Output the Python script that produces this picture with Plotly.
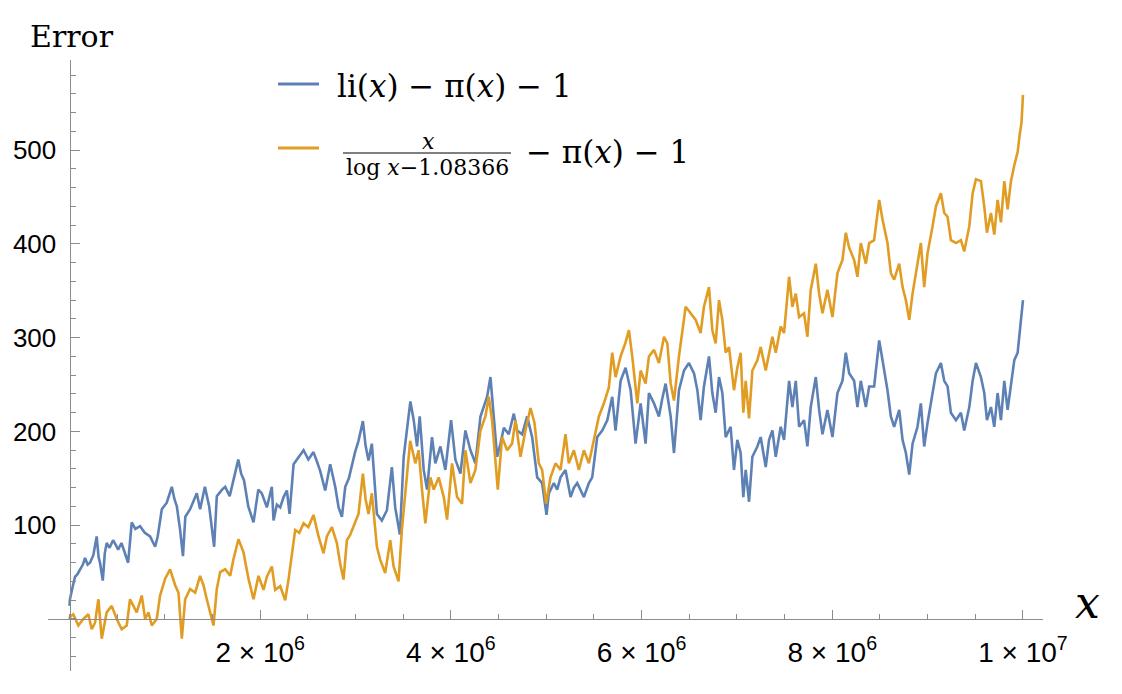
import numpy as np
import plotly.graph_objects as go

# values, x in units of 10^6
blue_x = [0.000, 0.005, 0.030, 0.058, 0.085, 0.110, 0.140, 0.163, 0.190, 0.215,
          0.250, 0.285, 0.305, 0.320, 0.349, 0.370, 0.390, 0.420, 0.457, 0.485,
          0.510, 0.545, 0.580, 0.615, 0.653, 0.690, 0.740, 0.790, 0.845, 0.898,
          0.925, 0.968, 1.020, 1.073, 1.100, 1.126, 1.160, 1.190, 1.215, 1.265,
          1.335, 1.370, 1.420, 1.465, 1.517, 1.545, 1.600, 1.633, 1.680, 1.715,
          1.770, 1.800, 1.830, 1.875, 1.930, 1.980, 2.017, 2.070, 2.122, 2.140,
          2.175, 2.210, 2.245, 2.280, 2.308, 2.350, 2.400, 2.455, 2.505, 2.559,
          2.595, 2.629, 2.682, 2.734, 2.787, 2.822, 2.857, 2.892, 2.930, 2.962,
          2.995, 3.031, 3.077, 3.105, 3.136, 3.171, 3.200, 3.224, 3.276, 3.329,
          3.381, 3.416, 3.465, 3.505, 3.575, 3.610, 3.645, 3.673, 3.715, 3.750,
          3.802, 3.837, 3.890, 3.942, 4.002, 4.047, 4.100, 4.152, 4.205, 4.257,
          4.310, 4.380, 4.415, 4.450, 4.485, 4.520, 4.555, 4.607, 4.660, 4.695,
          4.747, 4.800, 4.852, 4.905, 4.957, 5.003, 5.027, 5.080, 5.115, 5.150,
          5.202, 5.255, 5.290, 5.325, 5.360, 5.395, 5.447, 5.482, 5.535, 5.587,
          5.640, 5.692, 5.727, 5.780, 5.832, 5.885, 5.937, 5.990, 6.042, 6.077,
          6.130, 6.182, 6.215, 6.252, 6.305, 6.340, 6.392, 6.445, 6.497, 6.550,
          6.585, 6.619, 6.654, 6.707, 6.742, 6.777, 6.812, 6.847, 6.882, 6.934,
          6.969, 7.004, 7.039, 7.067, 7.092, 7.127, 7.162, 7.214, 7.249, 7.302,
          7.337, 7.372, 7.407, 7.459, 7.494, 7.547, 7.582, 7.617, 7.652, 7.704,
          7.739, 7.774, 7.827, 7.862, 7.897, 7.949, 8.002, 8.054, 8.107, 8.142,
          8.177, 8.229, 8.264, 8.299, 8.352, 8.387, 8.439, 8.492, 8.527, 8.579,
          8.614, 8.649, 8.702, 8.737, 8.772, 8.807, 8.842, 8.894, 8.929, 8.964,
          8.999, 9.052, 9.087, 9.139, 9.174, 9.209, 9.244, 9.297, 9.349, 9.384,
          9.437, 9.472, 9.507, 9.559, 9.594, 9.622, 9.664, 9.699, 9.734, 9.769,
          9.804, 9.839, 9.874, 9.909, 9.944, 9.965, 9.985, 10.000]
blue_y = [14, 21, 33, 45, 48, 52, 58, 65, 58, 60,
          68, 88, 66, 60, 41, 70, 81, 76, 84, 79,
          74, 81, 70, 60, 103, 96, 99, 92, 88, 77,
          88, 117, 124, 141, 128, 120, 95, 67, 109, 117,
          134, 117, 141, 120, 77, 131, 138, 141, 131, 145,
          170, 155, 148, 120, 103, 138, 134, 119, 141, 105,
          122, 119, 130, 137, 112, 165, 172, 180, 170, 178,
          168, 158, 137, 165, 141, 119, 109, 141, 150, 165,
          178, 190, 211, 185, 169, 187, 150, 112, 105, 116,
          162, 119, 90, 173, 232, 212, 184, 216, 159, 138,
          194, 166, 184, 159, 212, 170, 155, 201, 180, 166,
          216, 237, 258, 216, 173, 187, 204, 197, 219, 201,
          197, 216, 194, 151, 145, 111, 134, 145, 138, 151,
          159, 130, 140, 145, 138, 130, 145, 151, 194, 201,
          212, 237, 201, 254, 268, 244, 187, 230, 187, 241,
          230, 216, 234, 251, 216, 177, 244, 265, 273, 262,
          244, 212, 248, 280, 241, 220, 258, 241, 194, 205,
          159, 191, 177, 130, 159, 125, 173, 184, 194, 162,
          191, 201, 173, 205, 191, 254, 226, 254, 205, 212,
          184, 226, 258, 223, 197, 223, 194, 241, 254, 284,
          262, 254, 226, 254, 226, 248, 248, 297, 276, 244,
          216, 205, 223, 191, 177, 154, 187, 205, 230, 184,
          209, 244, 262, 273, 254, 248, 220, 212, 220, 201,
          226, 254, 273, 258, 241, 212, 226, 205, 241, 212,
          254, 223, 248, 276, 284, 305, 319, 340]

orange_x = [0.000, 0.005, 0.040, 0.093, 0.145, 0.198, 0.233, 0.268, 0.303, 0.338,
            0.390, 0.443, 0.495, 0.548, 0.600, 0.635, 0.670, 0.705, 0.758, 0.793,
            0.828, 0.863, 0.915, 0.950, 1.003, 1.055, 1.108, 1.143, 1.178, 1.213,
            1.265, 1.318, 1.370, 1.405, 1.440, 1.475, 1.510, 1.545, 1.580, 1.633,
            1.685, 1.720, 1.772, 1.825, 1.877, 1.930, 1.982, 2.035, 2.070, 2.122,
            2.157, 2.210, 2.262, 2.297, 2.332, 2.367, 2.410, 2.455, 2.505, 2.559,
            2.612, 2.664, 2.699, 2.752, 2.804, 2.839, 2.874, 2.909, 2.945, 2.979,
            3.031, 3.077, 3.105, 3.136, 3.171, 3.224, 3.259, 3.311, 3.364, 3.399,
            3.451, 3.486, 3.538, 3.573, 3.627, 3.662, 3.697, 3.732, 3.785, 3.820,
            3.872, 3.925, 3.960, 4.012, 4.065, 4.117, 4.152, 4.205, 4.257, 4.310,
            4.362, 4.397, 4.432, 4.467, 4.492, 4.537, 4.590, 4.642, 4.677, 4.730,
            4.782, 4.835, 4.877, 4.922, 4.957, 4.999, 5.045, 5.097, 5.150, 5.202,
            5.237, 5.290, 5.342, 5.395, 5.447, 5.500, 5.552, 5.605, 5.657, 5.692,
            5.727, 5.780, 5.832, 5.867, 5.902, 5.955, 5.990, 6.042, 6.077, 6.130,
            6.182, 6.235, 6.270, 6.305, 6.340, 6.392, 6.427, 6.462, 6.515, 6.567,
            6.619, 6.654, 6.707, 6.742, 6.777, 6.812, 6.847, 6.882, 6.917, 6.969,
            7.004, 7.039, 7.067, 7.092, 7.127, 7.162, 7.214, 7.249, 7.302, 7.337,
            7.372, 7.407, 7.459, 7.494, 7.547, 7.582, 7.617, 7.652, 7.704, 7.739,
            7.774, 7.827, 7.862, 7.897, 7.949, 8.002, 8.054, 8.107, 8.142, 8.177,
            8.229, 8.264, 8.299, 8.352, 8.387, 8.439, 8.492, 8.527, 8.579, 8.614,
            8.649, 8.702, 8.737, 8.772, 8.807, 8.842, 8.894, 8.929, 8.964, 8.999,
            9.052, 9.087, 9.139, 9.174, 9.209, 9.244, 9.297, 9.349, 9.384, 9.437,
            9.472, 9.507, 9.559, 9.594, 9.622, 9.664, 9.699, 9.734, 9.769, 9.804,
            9.839, 9.874, 9.909, 9.944, 9.965, 9.985, 10.000]
orange_y = [0, 2, 5, -7, 0, 5, -11, -4, 21, -21,
            7, 14, 0, -11, -7, 21, 14, 7, 25, 0,
            7, -7, 0, 25, 43, 53, 36, 28, -21, 21,
            32, 28, 46, 36, 21, 7, -7, 32, 50, 53,
            46, 64, 85, 71, 43, 21, 46, 31, 45, 56,
            31, 35, 20, 42, 70, 95, 92, 102, 98, 111,
            88, 70, 88, 98, 81, 59, 42, 84, 90, 98,
            112, 155, 128, 112, 134, 77, 63, 49, 84, 56,
            40, 95, 148, 190, 166, 180, 138, 102, 151, 138,
            151, 130, 106, 166, 130, 123, 180, 145, 159, 201,
            216, 237, 212, 166, 138, 194, 180, 187, 212, 173,
            201, 225, 209, 166, 159, 123, 151, 166, 159, 197,
            166, 180, 159, 180, 166, 191, 216, 230, 247, 284,
            258, 280, 295, 308, 280, 230, 265, 251, 280, 287,
            273, 301, 294, 251, 233, 280, 305, 333, 326, 319,
            305, 333, 354, 308, 294, 340, 319, 284, 290, 244,
            268, 284, 220, 254, 214, 265, 276, 290, 265, 284,
            301, 284, 312, 305, 365, 333, 347, 322, 326, 301,
            351, 379, 347, 326, 351, 322, 369, 383, 412, 396,
            383, 365, 401, 379, 401, 404, 447, 426, 401, 369,
            362, 379, 354, 340, 319, 347, 379, 401, 354, 390,
            419, 440, 454, 433, 429, 404, 401, 404, 392, 419,
            454, 469, 467, 440, 412, 433, 410, 447, 423, 467,
            437, 467, 484, 498, 516, 530, 559]

x_ticks = [2e6, 4e6, 6e6, 8e6, 1e7]
x_tick_text = ["2 × 10<sup>6</sup>", "4 × 10<sup>6</sup>", "6 × 10<sup>6</sup>",
               "8 × 10<sup>6</sup>", "1 × 10<sup>7</sup>"]
y_ticks = [100, 200, 300, 400, 500]

BLUE = "#5e81b5"
ORANGE = "#e19c24"
AXIS = "#8c8c8c"
SERIF = "DejaVu Serif, serif"
SANS = "Liberation Sans, Arial, sans-serif"

W, H = 1122, 694
L, R, T, B = 48, 79, 60, 23
x_range = [-0.2255e6, 10.21e6]
y_range = [-55.5, 596.2]


def px(x):
    # pixel column -> paper x
    return (x - L) / (W - L - R)


def py(y):
    # pixel row -> paper y
    return (H - B - y) / (H - T - B)


fig = go.Figure()
fig.add_trace(go.Scatter(x=np.array(blue_x) * 1e6, y=blue_y, mode="lines",
                         line=dict(color=BLUE, width=2.6), showlegend=False))
fig.add_trace(go.Scatter(x=np.array(orange_x) * 1e6, y=orange_y, mode="lines",
                         line=dict(color=ORANGE, width=2.6), showlegend=False))

fig.update_layout(
    width=W, height=H,
    margin=dict(l=L, r=R, t=T, b=B, autoexpand=False),
    paper_bgcolor="white", plot_bgcolor="white",
    xaxis=dict(range=x_range, showgrid=False, zeroline=False, automargin=False,
               showline=True, linecolor=AXIS, linewidth=1,
               ticks="inside", ticklen=9, tickcolor=AXIS,
               tickmode="array", tickvals=x_ticks, ticktext=x_tick_text,
               ticklabelstandoff=8,
               tickfont=dict(family=SANS, size=28, color="black"),
               anchor="free",
               position=(0 - y_range[0]) / (y_range[1] - y_range[0]),
               minor=dict(tickmode="linear", tick0=0, dtick=5e5, ticks="inside",
                          ticklen=5, tickcolor=AXIS, showgrid=False)),
    yaxis=dict(range=y_range, showgrid=False, zeroline=False, automargin=False,
               showline=True, linecolor=AXIS, linewidth=1,
               ticks="inside", ticklen=9, tickcolor=AXIS,
               tickmode="array", tickvals=y_ticks,
               ticklabelstandoff=8,
               tickfont=dict(family=SANS, size=26, color="black"),
               anchor="free",
               position=(0 - x_range[0]) / (x_range[1] - x_range[0]),
               minor=dict(tickmode="linear", tick0=0, dtick=20, ticks="inside",
                          ticklen=5, tickcolor=AXIS, showgrid=False)),
)

# axis labels
fig.add_annotation(text="Error", x=px(28), y=py(36), xref="paper", yref="paper",
                   xanchor="left", yanchor="middle", showarrow=False,
                   font=dict(family=SERIF, size=30, color="black"))
fig.add_annotation(text="<i>x</i>", x=px(1087), y=py(602), xref="paper", yref="paper",
                   xanchor="center", yanchor="middle", showarrow=False,
                   font=dict(family=SERIF, size=44, color="black"))

# legend, drawn by hand because of the fraction
fig.add_shape(type="line", xref="paper", yref="paper",
              x0=px(278), x1=px(319), y0=py(84), y1=py(84),
              line=dict(color=BLUE, width=3))
fig.add_annotation(text="li(<i>x</i>) − π(<i>x</i>) − 1", x=px(335), y=py(86),
                   xref="paper", yref="paper", xanchor="left", yanchor="middle",
                   showarrow=False, font=dict(family=SERIF, size=31, color="black"))
fig.add_shape(type="line", xref="paper", yref="paper",
              x0=px(278), x1=px(319), y0=py(148), y1=py(148),
              line=dict(color=ORANGE, width=3))
fig.add_annotation(text="<i>x</i>", x=px(428), y=py(141),
                   xref="paper", yref="paper", xanchor="center", yanchor="middle",
                   showarrow=False, font=dict(family=SERIF, size=22, color="black"))
fig.add_shape(type="line", xref="paper", yref="paper",
              x0=px(343), x1=px(511), y0=py(153), y1=py(153),
              line=dict(color="black", width=1))
fig.add_annotation(text="log <i>x</i>−1.08366", x=px(427), y=py(167),
                   xref="paper", yref="paper", xanchor="center", yanchor="middle",
                   showarrow=False, font=dict(family=SERIF, size=22, color="black"))
fig.add_annotation(text="− π(<i>x</i>) − 1", x=px(524), y=py(152),
                   xref="paper", yref="paper", xanchor="left", yanchor="middle",
                   showarrow=False, font=dict(family=SERIF, size=31, color="black"))

# the page body has an 8px margin by default, drop it so the figure sits at 0,0
fig.write_html("out.html", config={"displayModeBar": False},
               post_script="document.body.style.margin='0px';")
